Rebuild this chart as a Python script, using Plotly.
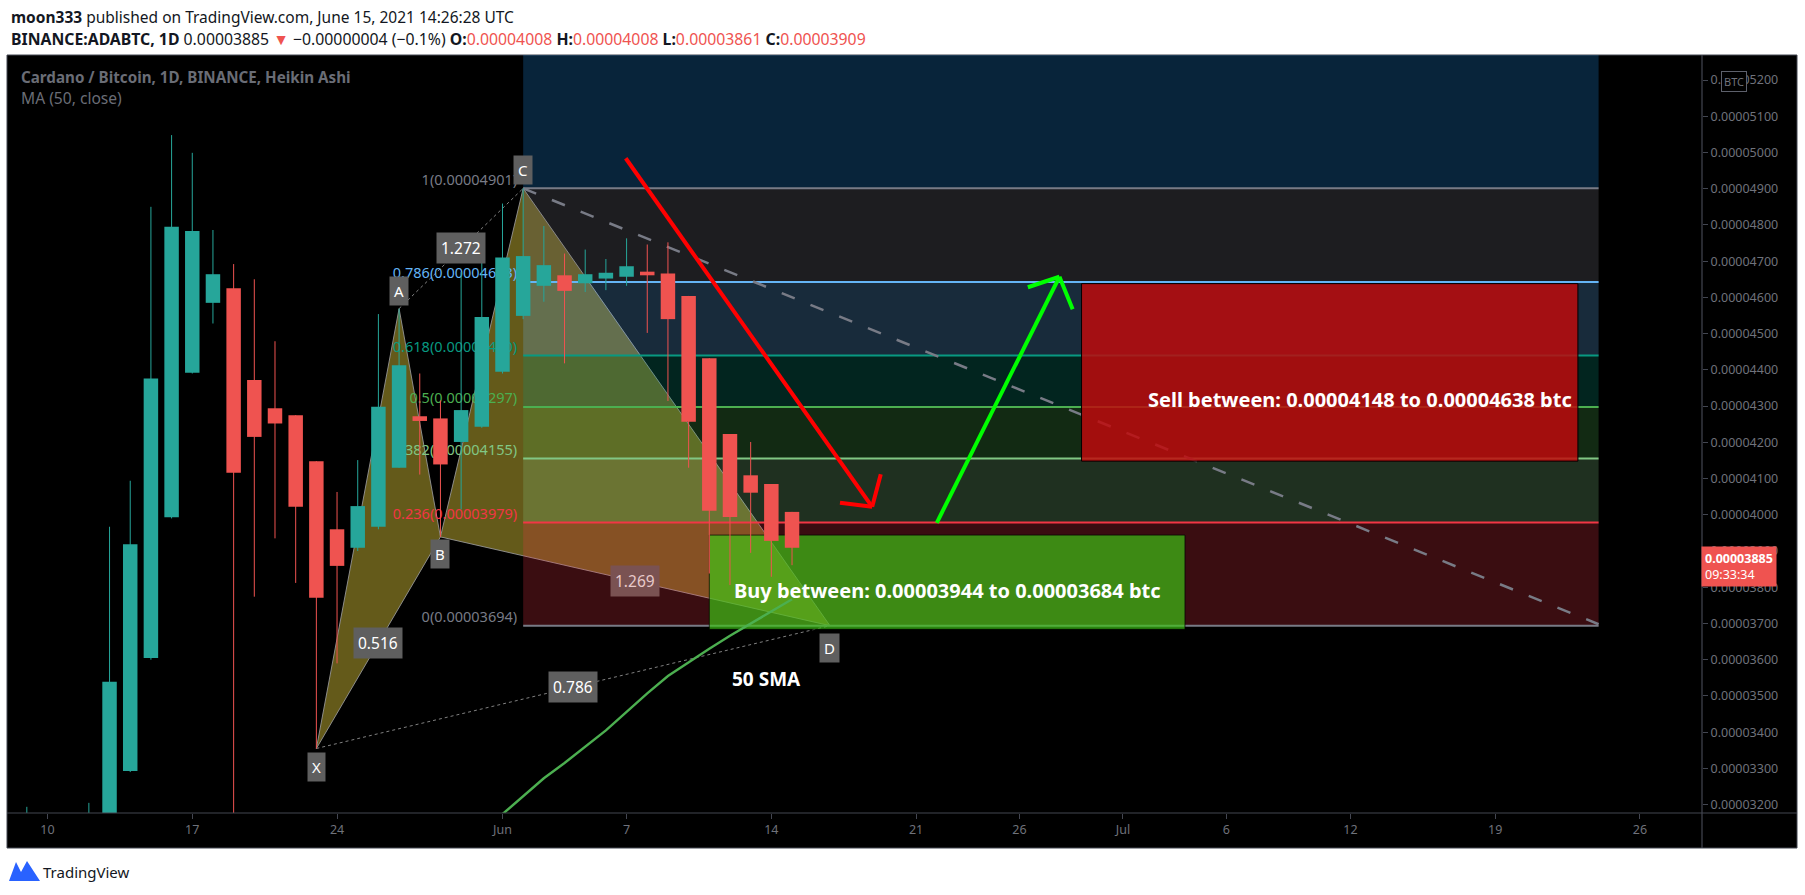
import plotly.graph_objects as go
from datetime import datetime, timedelta
import math

SAT = 1e-8  # prices below are in satoshis (1e-8 BTC)

# ---------------- data ----------------
candle_dates = [
    "2021-05-09", "2021-05-10", "2021-05-11", "2021-05-12", "2021-05-13", "2021-05-14",
    "2021-05-15", "2021-05-16", "2021-05-17", "2021-05-18", "2021-05-19", "2021-05-20",
    "2021-05-21", "2021-05-22", "2021-05-23", "2021-05-24", "2021-05-25", "2021-05-26",
    "2021-05-27", "2021-05-28", "2021-05-29", "2021-05-30", "2021-05-31", "2021-06-01",
    "2021-06-02", "2021-06-03", "2021-06-04", "2021-06-05", "2021-06-06", "2021-06-07",
    "2021-06-08", "2021-06-09", "2021-06-10", "2021-06-11", "2021-06-12", "2021-06-13",
    "2021-06-14", "2021-06-15",
]
candle_open = [2960, 3020, 3050, 3090, 3120, 3293, 3605, 3993, 4392, 4585, 4625, 4372,
               4294, 4275, 4148, 3960, 3909, 3967, 4130, 4272, 4266, 4201, 4243, 4395,
               4549, 4632, 4661, 4639, 4652, 4657, 4671, 4666, 4604, 4432, 4223, 4109,
               4085, 4008]
candle_high = [3194, 3150, 3160, 3205, 3967, 4094, 4850, 5048, 4999, 4786, 4692, 4650,
               4479, 4275, 4148, 4063, 4151, 4554, 4569, 4390, 4316, 4670, 4698, 4859,
               4901, 4797, 4721, 4732, 4706, 4763, 4746, 4752, 4604, 4432, 4223, 4201,
               4085, 4008]
candle_low = [2920, 2950, 3010, 3070, 3100, 3290, 3600, 3990, 4390, 4528, 3050, 3774,
              3935, 3812, 3355, 3590, 3900, 3960, 4130, 4111, 3939, 4015, 4240, 4390,
              4540, 4588, 4418, 4615, 4620, 4632, 4502, 4314, 4130, 3838, 3806, 3895,
              3829, 3861]
candle_close = [3060, 3090, 3120, 3160, 3539, 3919, 4376, 4795, 4783, 4664, 4116, 4215,
                4252, 4022, 3771, 3859, 4024, 4298, 4413, 4259, 4139, 4289, 4546, 4710,
                4714, 4689, 4618, 4664, 4668, 4686, 4661, 4540, 4257, 4011, 3994, 4061,
                3928, 3909]

sma_dates = ["2021-05-30", "2021-05-31", "2021-06-01", "2021-06-02", "2021-06-03",
             "2021-06-04", "2021-06-05", "2021-06-06", "2021-06-07", "2021-06-08",
             "2021-06-09", "2021-06-10", "2021-06-11", "2021-06-12", "2021-06-13",
             "2021-06-14", "2021-06-15"]
sma_values = [3075, 3125, 3174, 3225, 3273, 3315, 3360, 3405, 3456, 3507, 3555, 3593,
              3630, 3666, 3700, 3732, 3767]

pattern_names = ["X", "A", "B", "C", "D"]
pattern_dates = ["2021-05-23", "2021-05-27", "2021-05-29", "2021-06-02", "2021-06-16 20:00"]
pattern_prices = [3355, 4569, 3939, 4901, 3694]
ratio_labels = ["0.516", "1.272", "1.269", "0.786"]   # on XB, AC, BD, XD

fib_levels = [0, 0.236, 0.382, 0.5, 0.618, 0.786, 1, 1.618]
fib_colors = ["#787b86", "#f23645", "#81c784", "#4caf50", "#089981", "#64b5f6",
              "#787b86", "#2196f3"]
fib_low, fib_high = 3694, 4901
fib_start, fib_end = "2021-06-02", "2021-07-24"

trend_start = ("2021-06-02", 4901)
trend_end = ("2021-07-24", 3698)

buy_zone = ("2021-06-11", "2021-07-04", 3684, 3944)
sell_zone = ("2021-06-29", "2021-07-23", 4148, 4638)

red_arrow = [("2021-06-06 23:00", 4984), ("2021-06-18 21:00", 4022)]
red_head = [("2021-06-17 07:40", 4033), ("2021-06-19 07:00", 4112)]
green_arrow = [("2021-06-22 00:00", 3978), ("2021-06-27 22:20", 4657)]
green_head = [("2021-06-26 09:40", 4628), ("2021-06-28 13:40", 4567)]

sma_label = ("2021-06-13 18:40", 3546)

last_price = 3885
price_ticks = list(range(3200, 5300, 100))
x_tick_dates = ["2021-05-10", "2021-05-17", "2021-05-24", "2021-06-01", "2021-06-07",
                "2021-06-14", "2021-06-21", "2021-06-26", "2021-07-01", "2021-07-06",
                "2021-07-12", "2021-07-19", "2021-07-26"]
x_tick_text = ["10", "17", "24", "Jun", "7", "14", "21", "26", "Jul", "6", "12", "19", "26"]

x_range = ["2021-05-08 01:00", "2021-07-29 00:00"]
y_range = [3177, 5269]

# ---------------- layout geometry ----------------
W, H = 1805, 895
ML, MR, MT, MB = 7, 103, 55, 82
PW, PH = W - ML - MR, H - MT - MB
FONT = "Noto Sans"
UP, DOWN = "#26a69a", "#ef5350"
AXIS_TXT = "#6f727b"
FRAME = "#434651"
DAY_PX = PW / ((datetime.fromisoformat(x_range[1]) - datetime.fromisoformat(x_range[0])).total_seconds() / 86400)
BODY_W = 0.7 * DAY_PX


def px(x):
    return (x - ML) / PW


def py(y):
    return (H - MB - y) / PH


def dt(s):
    return datetime.fromisoformat(s)


def mid(a, b):
    return (dt(a) + (dt(b) - dt(a)) / 2).strftime("%Y-%m-%d %H:%M")


def pdate(s):
    return s.replace(" ", "_")


fig = go.Figure()

# fib level labels (drawn under candles)
fib_prices = [fib_low + l * (fib_high - fib_low) for l in fib_levels]
fib_texts = ["%g(%.8f)" % (l, math.ceil(p - 0.5) * SAT) for l, p in zip(fib_levels, fib_prices)]
label_x = (dt(fib_start) - timedelta(hours=7)).strftime("%Y-%m-%d %H:%M")
fig.add_trace(go.Scatter(
    x=[label_x] * 7, y=[p * SAT for p in fib_prices[:7]], mode="text",
    text=fib_texts[:7], textposition="top left",
    textfont=dict(color=fib_colors[:7], size=14.5, family=FONT),
    hoverinfo="skip", showlegend=False))

# candles: wicks then bodies (same scatter layer, so they sit above the labels)
for col, sel in ((UP, lambda o, c: c >= o), (DOWN, lambda o, c: c < o)):
    wx, wy = [], []
    for d, o, h, l, c in zip(candle_dates, candle_open, candle_high, candle_low, candle_close):
        if sel(o, c):
            wx += [d, d, None]
            wy += [l * SAT, h * SAT, None]
    fig.add_trace(go.Scatter(x=wx, y=wy, mode="lines", line=dict(color=col, width=1),
                             hoverinfo="skip", showlegend=False))
for col, sel in ((UP, lambda o, c: c >= o), (DOWN, lambda o, c: c < o)):
    bx, by = [], []
    for d, o, c in zip(candle_dates, candle_open, candle_close):
        if sel(o, c):
            lo, hi = min(o, c), max(o, c)
            if hi - lo < 2:
                hi = lo + 2
            bx += [d, d, None]
            by += [lo * SAT, hi * SAT, None]
    fig.add_trace(go.Scatter(x=bx, y=by, mode="lines", line=dict(color=col, width=BODY_W),
                             hoverinfo="skip", showlegend=False))

# 50 SMA
fig.add_trace(go.Scatter(x=sma_dates, y=[v * SAT for v in sma_values], mode="lines",
                         line=dict(color="#4caf50", width=2.4), hoverinfo="skip",
                         showlegend=False))

shapes = []
# chart frame (paper)
shapes.append(dict(type="rect", xref="paper", yref="paper", x0=px(7), x1=px(1797),
                   y0=py(848), y1=py(55), fillcolor="#000000", line=dict(color=FRAME, width=1),
                   layer="below"))

# XABCD triangles
P = list(zip(pattern_dates, pattern_prices))


def tri(a, b, c):
    pts = [a, b, c]
    return "M " + " L ".join("%s,%.10g" % (pdate(d), v * SAT) for d, v in pts) + " Z"


for a, b, c in ((P[0], P[1], P[2]), (P[2], P[3], P[4])):
    shapes.append(dict(type="path", xref="x", yref="y", path=tri(a, b, c),
                       fillcolor="rgba(250,225,65,0.40)",
                       line=dict(color="rgba(150,150,150,0.9)", width=1), layer="below"))
for a, b in ((P[1], P[3]), (P[0], P[4])):
    shapes.append(dict(type="line", xref="x", yref="y", x0=a[0], y0=a[1] * SAT,
                       x1=b[0], y1=b[1] * SAT,
                       line=dict(color="rgba(160,160,160,0.8)", width=1, dash="dot"),
                       layer="below"))


def rgba(hexc, a):
    hexc = hexc.lstrip("#")
    r, g, b = int(hexc[0:2], 16), int(hexc[2:4], 16), int(hexc[4:6], 16)
    return "rgba(%d,%d,%d,%.2f)" % (r, g, b, a)


# fib bands
for i in range(len(fib_levels) - 1):
    shapes.append(dict(type="rect", xref="x", yref="y", x0=fib_start, x1=fib_end,
                       y0=fib_prices[i] * SAT, y1=fib_prices[i + 1] * SAT,
                       fillcolor=rgba(fib_colors[i + 1], 0.24), line=dict(width=0),
                       layer="below"))
for i in range(len(fib_levels) - 1):
    shapes.append(dict(type="line", xref="x", yref="y", x0=fib_start, x1=fib_end,
                       y0=fib_prices[i] * SAT, y1=fib_prices[i] * SAT,
                       line=dict(color=fib_colors[i], width=2), layer="below"))

# dashed trend line
shapes.append(dict(type="line", xref="x", yref="y", x0=trend_start[0], y0=trend_start[1] * SAT,
                   x1=trend_end[0], y1=trend_end[1] * SAT,
                   line=dict(color="#787b86", width=2.5, dash="14px,17px"), layer="below"))

# zones
shapes.append(dict(type="rect", xref="x", yref="y", x0=buy_zone[0], x1=buy_zone[1],
                   y0=buy_zone[2] * SAT, y1=buy_zone[3] * SAT,
                   fillcolor="rgba(62,200,22,0.67)", line=dict(color="rgba(0,0,0,0.7)", width=1),
                   layer="below"))
shapes.append(dict(type="rect", xref="x", yref="y", x0=sell_zone[0], x1=sell_zone[1],
                   y0=sell_zone[2] * SAT, y1=sell_zone[3] * SAT,
                   fillcolor="rgba(192,10,12,0.84)", line=dict(color="#000000", width=1),
                   layer="below"))

# arrows
for body, head, col in ((red_arrow, red_head, "#ff0000"), (green_arrow, green_head, "#00ff00")):
    (d0, v0), (d1, v1) = body
    shapes.append(dict(type="line", xref="x", yref="y", x0=d0, y0=v0 * SAT, x1=d1, y1=v1 * SAT,
                       line=dict(color=col, width=4), layer="below"))
    for hd, hv in head:
        shapes.append(dict(type="line", xref="x", yref="y", x0=d1, y0=v1 * SAT, x1=hd,
                           y1=hv * SAT, line=dict(color=col, width=4), layer="below"))

# axis separators
shapes.append(dict(type="line", xref="paper", yref="paper", x0=px(7), x1=px(1797),
                   y0=py(813), y1=py(813), line=dict(color=FRAME, width=1.2), layer="above"))
shapes.append(dict(type="line", xref="paper", yref="paper", x0=px(1702), x1=px(1702),
                   y0=py(55), y1=py(848), line=dict(color=FRAME, width=1.2), layer="above"))

# TradingView logo mark
logo = [(9, 881), (16, 862), (21, 872), (27, 861), (40, 881)]
shapes.append(dict(type="path", xref="paper", yref="paper",
                   path="M " + " L ".join("%.5f,%.5f" % (px(a), py(b)) for a, b in logo) + " Z",
                   fillcolor="#2962ff", line=dict(width=0), layer="above"))

ann = []
# header
ann.append(dict(xref="paper", yref="paper", x=px(9), y=py(16.7), xanchor="left", yanchor="middle",
                showarrow=False, font=dict(family=FONT, size=15.5, color="#131722"),
                text="<b>moon333</b> published on TradingView.com, June 15, 2021 14:26:28 UTC"))
red = "<span style='color:#ef5350'>%s</span>"
ann.append(dict(xref="paper", yref="paper", x=px(9), y=py(39.3), xanchor="left", yanchor="middle",
                showarrow=False, font=dict(family=FONT, size=15.8, color="#131722"),
                text="<b>BINANCE:ADABTC, 1D</b> 0.00003885 " + red % "▼" +
                " −0.00000004 (−0.1%) <b>O:</b>" + red % "0.00004008" +
                " <b>H:</b>" + red % "0.00004008" + " <b>L:</b>" + red % "0.00003861" +
                " <b>C:</b>" + red % "0.00003909"))
ann.append(dict(xref="paper", yref="paper", x=px(19), y=py(77.5), xanchor="left", yanchor="middle",
                showarrow=False, font=dict(family=FONT, size=15.2, color="#6a6d76"),
                text="<b>Cardano / Bitcoin, 1D, BINANCE, Heikin Ashi</b>"))
ann.append(dict(xref="paper", yref="paper", x=px(19), y=py(98.5), xanchor="left", yanchor="middle",
                showarrow=False, font=dict(family=FONT, size=15.6, color="#6a6d76"),
                text="MA (50, close)"))
ann.append(dict(xref="paper", yref="paper", x=px(41), y=py(872), xanchor="left", yanchor="middle",
                showarrow=False, font=dict(family=FONT, size=15, color="#131722"),
                text="TradingView"))

# pattern point labels
shifts = [-18, 18, -17, 18, -22]
for n, (d, v), s in zip(pattern_names, P, shifts):
    ann.append(dict(x=d, y=v * SAT, xref="x", yref="y", text=n, showarrow=False, yshift=s,
                    font=dict(family=FONT, size=15, color="#ffffff"), bgcolor="#5f5f5f",
                    borderpad=4))
# ratio labels
segs = [(P[0], P[2]), (P[1], P[3]), (P[2], P[4]), (P[0], P[4])]
for lab, (a, b), i in zip(ratio_labels, segs, range(4)):
    tinted = (i == 2)
    ann.append(dict(x=mid(a[0], b[0]), y=(a[1] + b[1]) / 2 * SAT, xref="x", yref="y", text=lab,
                    showarrow=False,
                    font=dict(family=FONT, size=15.5, color="#e8caca" if tinted else "#ffffff"),
                    bgcolor="#7a5252" if tinted else "#5f5f5f", borderpad=4))

# zone texts
ann.append(dict(x=mid(buy_zone[0], buy_zone[1]), y=(buy_zone[2] + buy_zone[3]) / 2 * SAT,
                xref="x", yref="y", showarrow=False, yshift=-8,
                font=dict(family=FONT, size=20, color="#ffffff"),
                text="<b>Buy between: 0.00003944 to 0.00003684 btc</b>"))
ann.append(dict(x=sell_zone[1], y=(sell_zone[2] + 0.35 * (sell_zone[3] - sell_zone[2])) * SAT,
                xref="x", yref="y", showarrow=False, xanchor="right", xshift=-4,
                font=dict(family=FONT, size=20, color="#ffffff"),
                text="<b>Sell between: 0.00004148 to 0.00004638 btc</b>"))
ann.append(dict(x=sma_label[0], y=sma_label[1] * SAT, xref="x", yref="y", showarrow=False,
                font=dict(family=FONT, size=19, color="#ffffff"), text="<b>50 SMA</b>"))

# price axis extras
ann.append(dict(xref="paper", yref="paper", x=px(1746.5), y=py(71), showarrow=False,
                text="BTC", font=dict(family=FONT, size=11, color="#6f727b"),
                bgcolor="#000000", bordercolor="#5d606b", borderwidth=1, borderpad=2))
ann.append(dict(xref="paper", yref="y", x=px(1701), y=last_price * SAT, xanchor="left",
                yanchor="top", yshift=10, showarrow=False, align="left",
                text="<b>0.00003885</b><br>09:33:34",
                font=dict(family=FONT, size=12.5, color="#ffffff"), bgcolor="#ef5350",
                borderpad=3))

fig.update_layout(
    width=W, height=H, autosize=False,
    margin=dict(l=ML, r=MR, t=MT, b=MB, pad=0),
    paper_bgcolor="#ffffff", plot_bgcolor="#000000",
    showlegend=False,
    shapes=shapes, annotations=ann,
    xaxis=dict(type="date", range=x_range, tickvals=x_tick_dates, ticktext=x_tick_text,
               showgrid=False, zeroline=False, ticks="outside", ticklen=5,
               tickcolor=FRAME, tickfont=dict(family=FONT, size=12.5, color=AXIS_TXT),
               showline=False, fixedrange=True),
    yaxis=dict(side="right", range=[y_range[0] * SAT, y_range[1] * SAT],
               tickvals=[t * SAT for t in price_ticks],
               ticktext=["%.8f" % (t * SAT) for t in price_ticks],
               showgrid=False, zeroline=False, ticks="outside", ticklen=5, tickcolor=FRAME,
               tickfont=dict(family=FONT, size=12.5, color=AXIS_TXT), showline=False,
               fixedrange=True),
)

fig.write_html("out.html", config={"displayModeBar": False},
               post_script="document.body.style.margin='0';document.body.style.overflow='hidden';")
